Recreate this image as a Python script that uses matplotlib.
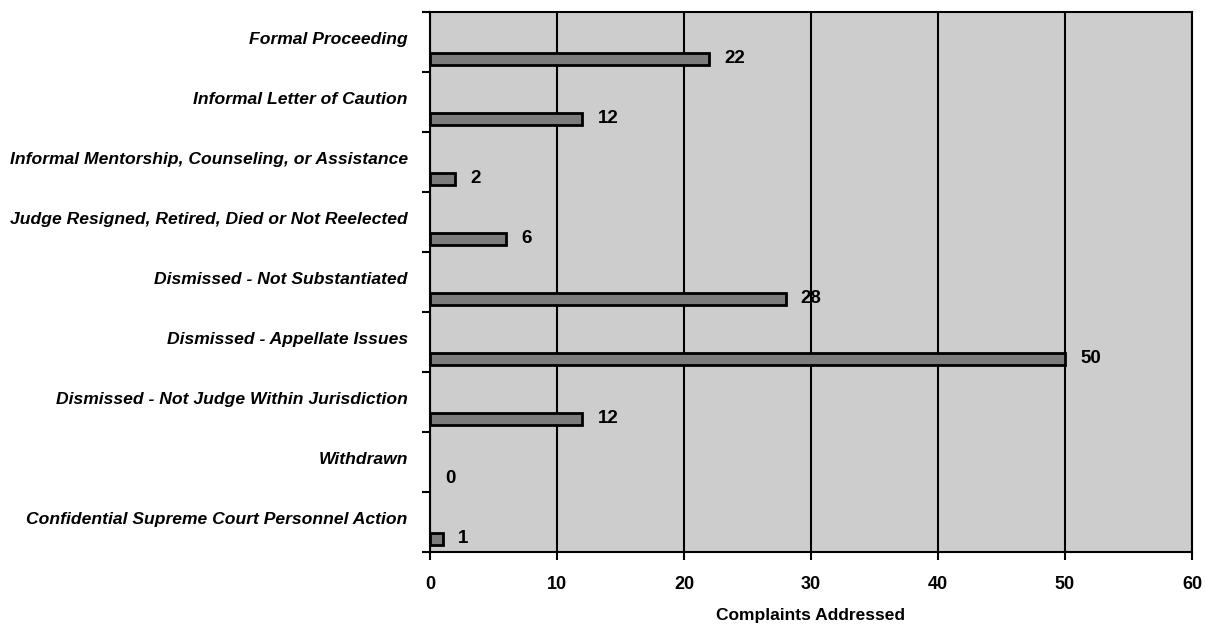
import numpy as np
import matplotlib.pyplot as plt

categories = [
    'Formal Proceeding',
    'Informal Letter of Caution',
    'Informal Mentorship, Counseling, or Assistance',
    'Judge Resigned, Retired, Died or Not Reelected',
    'Dismissed - Not Substantiated',
    'Dismissed - Appellate Issues',
    'Dismissed - Not Judge Within Jurisdiction',
    'Withdrawn',
    'Confidential Supreme Court Personnel Action',
]
values = [22, 12, 2, 6, 28, 50, 12, 0, 1]
x_ticks = [0, 10, 20, 30, 40, 50, 60]

plt.rcParams['font.family'] = ['Liberation Sans', 'DejaVu Sans']

fig = plt.figure(figsize=(12.05, 6.29), dpi=100)
ax = fig.add_axes([0.3568, 0.1224, 0.6324, 0.8585])
ax.set_facecolor('#cdcdcd')

pos = np.arange(len(categories))
bar_pos = pos + 0.28
bars = ax.barh(bar_pos, values, height=0.19, color='#7c7c7c', edgecolor='black',
               linewidth=2, zorder=3)
for b, v in zip(bars, values):
    if v == 0:
        b.set_visible(False)

for y, v in zip(bar_pos, values):
    ax.annotate(str(v), (v, y), xytext=(11, 0), textcoords='offset points',
                va='center', ha='left', fontsize=13.5, fontweight='bold',
                zorder=4)

ax.set_xlim(0, 60)
ax.set_ylim(len(categories) - 0.5, -0.5)
ax.set_xticks(x_ticks)
ax.set_xticklabels([str(t) for t in x_ticks], fontsize=13, fontweight='bold')
# labels sit slightly above the band centre
ax.set_yticks(pos - 0.06)
ax.set_yticklabels(categories, fontsize=12.6, fontweight='bold', style='italic')
ax.set_yticks(np.arange(len(categories) + 1) - 0.5, minor=True)
ax.tick_params(axis='y', which='major', length=0, pad=16)
ax.tick_params(axis='y', which='minor', length=6, width=1.5, direction='out')
ax.tick_params(axis='x', length=6, width=1.5, direction='out', pad=11)

ax.grid(True, axis='x', color='black', linewidth=1.5, zorder=1)
ax.set_axisbelow(True)
for s in ax.spines.values():
    s.set_linewidth(1.5)

ax.set_xlabel('Complaints Addressed', fontsize=12.5, fontweight='bold', labelpad=11)

fig.savefig('out.png', dpi=100)
